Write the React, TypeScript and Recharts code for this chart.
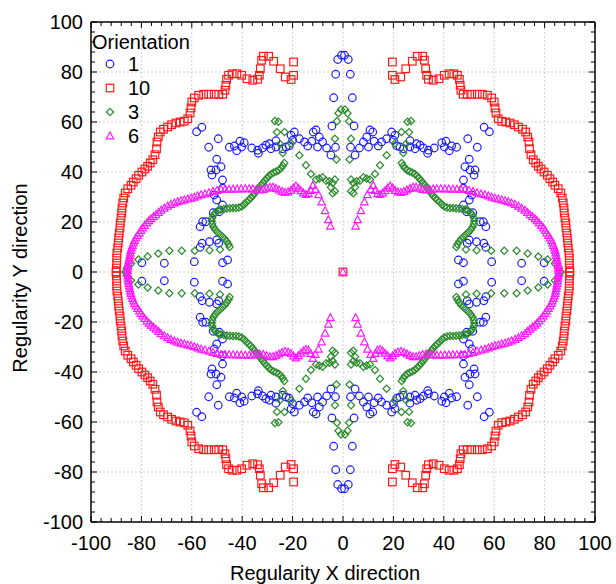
import React from "react";
import {
  ScatterChart,
  Scatter,
  XAxis,
  YAxis,
  ReferenceLine,
  Legend,
} from "recharts";

// one quadrant (x>0, y>0) per orientation; the figure is symmetric
const orient1Quadrant: [number, number][] = [
  [0.6, 86.7], [2.1, 85.0], [2.9, 79.1], [3.7, 69.7], [4.4, 58.4], [3.0, 49.9], [4.8, 46.8],
  [6.5, 49.6], [8.1, 52.0], [9.4, 54.0], [10.7, 56.8], [11.8, 56.0], [10.1, 50.0], [12.4, 52.3],
  [14.0, 50.4], [15.3, 52.0], [17.3, 53.3], [19.3, 56.0], [20.6, 54.7], [20.0, 52.7], [21.3, 50.5],
  [22.6, 50.0], [24.0, 49.3], [26.6, 50.0], [26.6, 52.5], [28.6, 49.3], [29.2, 51.3], [30.6, 50.7],
  [31.9, 49.6], [33.6, 47.5], [33.9, 48.7], [36.2, 49.6], [39.2, 51.7], [40.9, 52.3], [40.2, 50.0],
  [42.2, 48.5], [43.1, 50.4], [45.1, 49.9], [49.5, 53.3], [53.3, 49.9], [56.0, 57.9], [58.1, 56.1],
  [50.1, 45.1], [48.4, 42.1], [50.4, 40.8], [52.4, 40.8], [52.0, 38.8], [47.8, 36.8], [47.8, 33.5],
  [51.1, 30.8], [50.1, 28.8], [47.8, 26.8], [49.1, 24.1], [51.5, 23.7], [54.4, 20.1], [55.7, 20.1],
  [56.7, 18.1], [50.1, 12.8], [49.3, 11.5], [53.0, 12.1], [55.9, 11.5], [56.7, 9.9], [45.8, 4.8],
  [47.8, 3.7], [59.0, 4.1], [70.9, 3.5], [79.8, 3.7],
];

const orient10Quadrant: [number, number][] = [
  [19.6, 84.0], [19.6, 78.7], [20.6, 77.0], [22.9, 78.0], [24.9, 81.3], [27.5, 84.3], [29.5, 86.3],
  [31.6, 86.3], [32.3, 84.7], [32.8, 81.3], [33.2, 78.7], [33.9, 77.1], [35.8, 76.7], [38.1, 77.3],
  [40.2, 78.7], [42.1, 79.3], [44.0, 79.3], [45.4, 78.7], [46.2, 77.1], [46.5, 74.7], [46.8, 72.7],
  [47.7, 71.1], [49.3, 71.0], [51.1, 71.1], [53.3, 71.1], [55.3, 71.1], [57.3, 70.7], [59.0, 69.6],
  [60.0, 68.0], [60.3, 65.6], [60.7, 63.6], [61.6, 61.3], [63.0, 60.3], [64.6, 60.0], [66.3, 59.6],
  [68.0, 58.9], [69.6, 58.0], [71.2, 57.1], [72.5, 56.0], [73.3, 54.0], [73.8, 52.0], [74.0, 49.3],
  [74.6, 46.9], [75.5, 44.9], [76.5, 43.6], [77.5, 42.3], [78.6, 41.2], [79.8, 40.0], [81.1, 38.7],
  [82.1, 37.3], [83.2, 36.0], [84.1, 34.7], [85.4, 33.3], [86.4, 31.6], [87.0, 29.6], [87.4, 27.6],
  [87.7, 25.6], [87.8, 23.6], [88.1, 21.6], [88.4, 19.6], [88.5, 17.6], [88.8, 15.6], [89.0, 13.6],
  [89.2, 11.6], [89.4, 9.6], [89.7, 7.6], [89.8, 5.6], [89.8, 3.6], [89.9, 1.6], [90.0, 0],
];

const orient3Quadrant: [number, number][] = [
  [0.8, 65.0], [1.8, 63.5], [2.4, 60.3], [3.2, 53.3], [2.6, 45.0], [3.2, 37.0], [4.1, 35.6],
  [5.4, 36.3], [6.7, 36.5], [8.1, 37.9], [9.4, 37.4], [10.7, 37.0], [4.8, 33.9], [3.2, 32.3],
  [4.1, 31.5], [12.7, 39.2], [14.7, 42.7], [17.3, 46.7], [20.6, 51.4], [23.9, 47.6], [25.0, 51.2],
  [23.2, 56.0], [26.2, 55.9], [25.6, 60.1], [27.0, 60.4],
  [23.3, 43.6], [23.9, 42.5], [24.6, 41.5], [25.5, 40.7], [26.5, 40.2], [27.5, 39.8], [28.5, 39.2],
  [29.4, 38.4], [30.2, 37.5], [31.0, 36.6], [31.8, 35.6], [32.6, 34.6], [33.4, 33.6], [34.2, 32.5],
  [35.0, 31.5], [35.8, 30.5], [36.6, 29.6], [37.4, 28.8], [38.3, 28.0], [39.2, 27.0], [40.2, 26.2],
  [41.3, 25.8], [42.5, 25.6], [43.7, 25.6], [44.9, 25.5], [46.1, 25.4], [47.3, 25.2], [48.5, 25.0],
  [49.6, 24.6], [50.6, 23.8], [51.4, 22.8], [51.9, 21.6], [52.1, 20.4], [51.9, 19.2], [51.4, 18.0],
  [50.7, 16.9], [49.8, 15.9], [48.8, 15.0], [47.8, 14.1], [46.9, 13.2], [46.1, 12.2], [45.4, 11.1],
  [45.0, 10.0], [48.8, 9.0], [53.0, 8.7], [58.8, 8.5], [64.0, 8.5], [68.9, 8.5], [73.3, 7.4],
  [77.5, 6.2], [81.2, 5.0], [84.1, 3.4], [85.8, 1.5], [86.3, 0],
];

const orient6Quadrant: [number, number][] = [
  [5.0, 18.3], [5.8, 20.9], [7.1, 24.5], [8.5, 28.0], [9.7, 30.9], [11.0, 33.0], [12.0, 34.6],
  [12.8, 32.6], [13.7, 31.3], [14.7, 31.0], [15.7, 31.6], [16.7, 32.5], [17.7, 33.5], [18.7, 34.4],
  [19.7, 33.6], [20.7, 32.6], [21.8, 32.0], [23.0, 31.8], [24.2, 32.2], [25.4, 32.8], [26.6, 33.4],
  [27.8, 33.9], [29.0, 33.9], [30.3, 33.5], [31.6, 33.0], [33.0, 32.8], [34.4, 33.0], [35.8, 33.2],
  [37.2, 33.3], [38.8, 33.3], [40.4, 33.2], [42.0, 33.2], [43.6, 33.1], [45.2, 33.1], [46.8, 33.0],
  [48.4, 33.0], [50.0, 32.6], [51.6, 32.2], [53.2, 31.7], [54.8, 31.2], [56.3, 30.9], [57.7, 30.4],
  [59.0, 29.9], [60.3, 29.5], [61.6, 29.2], [63.0, 28.8], [64.3, 28.5], [65.6, 28.1], [66.9, 27.6],
  [68.3, 27.0], [69.6, 26.3], [70.9, 25.5], [72.2, 24.7], [73.2, 23.8], [74.2, 22.9], [75.2, 22.1],
  [76.2, 21.3], [77.0, 20.5], [77.8, 19.6], [78.7, 18.6], [79.5, 17.6], [80.2, 16.6], [80.8, 15.6],
  [81.5, 14.6], [82.2, 13.6], [82.7, 12.6], [83.1, 11.6], [83.5, 10.6], [83.9, 9.6], [84.2, 8.6],
  [84.4, 7.6], [84.6, 6.6], [84.8, 5.6], [85.0, 4.6], [85.2, 3.6], [85.3, 2.6], [85.4, 1.6],
  [85.5, 0.6],
];

const centerPoint: [number, number][] = [[0, 0]];

const majorTicks = [-100, -80, -60, -40, -20, 0, 20, 40, 60, 80, 100];
const minorTicks = [
  -100, -96, -92, -88, -84, -80, -76, -72, -68, -64, -60, -56, -52, -48, -44, -40, -36, -32,
  -28, -24, -20, -16, -12, -8, -4, 0, 4, 8, 12, 16, 20, 24, 28, 32, 36, 40, 44, 48, 52, 56, 60,
  64, 68, 72, 76, 80, 84, 88, 92, 96, 100,
];

const FONT = "'Liberation Sans', Arial, Helvetica, sans-serif";

const mirror = (q: [number, number][]) =>
  q.flatMap(([x, y]) => [
    { x, y },
    { x: -x, y },
    { x, y: -y },
    { x: -x, y: -y },
  ]);

const toPoints = (q: [number, number][]) => q.map(([x, y]) => ({ x, y }));

type Kind = "circle" | "square" | "diamond" | "triangle";

const Marker = ({ kind, cx, cy, color }: { kind: Kind; cx: number; cy: number; color: string }) => {
  const common = { fill: "none", stroke: color, strokeWidth: 1.2 };
  if (kind === "circle") return <circle cx={cx} cy={cy} r={3.8} {...common} />;
  if (kind === "square") return <rect x={cx - 3.8} y={cy - 3.8} width={7.6} height={7.6} {...common} />;
  if (kind === "diamond")
    return (
      <polygon
        points={`${cx},${cy - 3.6} ${cx + 3.6},${cy} ${cx},${cy + 3.6} ${cx - 3.6},${cy}`}
        {...common}
      />
    );
  return (
    <polygon
      points={`${cx},${cy - 4} ${cx + 3.7},${cy + 2.8} ${cx - 3.7},${cy + 2.8}`}
      {...common}
    />
  );
};

const series: { name: string; kind: Kind; color: string; data: { x: number; y: number }[] }[] = [
  { name: "1", kind: "circle", color: "#1a1aff", data: mirror(orient1Quadrant) },
  { name: "10", kind: "square", color: "#ff1a1a", data: [...mirror(orient10Quadrant), ...toPoints(centerPoint)] },
  { name: "3", kind: "diamond", color: "#2a8a2a", data: mirror(orient3Quadrant) },
  { name: "6", kind: "triangle", color: "#ff1aff", data: [...mirror(orient6Quadrant), ...toPoints(centerPoint)] },
];

const renderLegend = () => (
  <svg width={130} height={125} style={{ fontFamily: FONT }}>
    <text x={4} y={14} fontSize={20} dominantBaseline="central" fill="#000">
      Orientation
    </text>
    {series.map((s, i) => (
      <g key={s.name}>
        <Marker kind={s.kind} cx={22} cy={36 + i * 24} color={s.color} />
        <text x={40} y={36 + i * 24} fontSize={20} dominantBaseline="central" fill="#000">
          {s.name}
        </text>
      </g>
    ))}
  </svg>
);

const tickStyle = { fill: "#000", fontSize: 20, fontFamily: FONT };

export default function App() {
  return (
    <div
      style={{
        position: "absolute",
        left: 8,
        top: 8,
        width: 608,
        height: 576,
        overflow: "hidden",
        fontFamily: FONT,
      }}
    >
      <ScatterChart width={608} height={576} margin={{ top: 14, right: 21, bottom: 12, left: 13 }}>
        <XAxis
          type="number"
          dataKey="x"
          domain={[-100, 100]}
          ticks={majorTicks}
          interval={0}
          tickLine={false}
          tickSize={0}
          tickMargin={14}
          height={50}
          tick={tickStyle}
          axisLine={{ stroke: "#000", strokeWidth: 1.5 }}
        />
        <YAxis
          type="number"
          dataKey="y"
          domain={[-100, 100]}
          ticks={majorTicks}
          interval={0}
          tickLine={false}
          tickSize={0}
          tickMargin={8}
          width={70}
          tick={tickStyle}
          axisLine={{ stroke: "#000", strokeWidth: 1.5 }}
        />
        {majorTicks
          .filter((v) => v > -100 && v < 100)
          .map((v) => (
            <ReferenceLine key={`gx${v}`} x={v} stroke="#cfcfcf" strokeDasharray="2 2" />
          ))}
        {majorTicks
          .filter((v) => v > -100 && v < 100)
          .map((v) => (
            <ReferenceLine key={`gy${v}`} y={v} stroke="#cfcfcf" strokeDasharray="2 2" />
          ))}
        <ReferenceLine x={100} stroke="#000" strokeWidth={1.5} />
        <ReferenceLine y={100} stroke="#000" strokeWidth={1.5} />
        {minorTicks.map((v) => {
          const len = v % 20 === 0 ? 2.4 : 1.6;
          return [
            <ReferenceLine key={`b${v}`} segment={[{ x: v, y: -100 }, { x: v, y: -100 + len }]} stroke="#000" />,
            <ReferenceLine key={`t${v}`} segment={[{ x: v, y: 100 }, { x: v, y: 100 - len }]} stroke="#000" />,
            <ReferenceLine key={`l${v}`} segment={[{ x: -100, y: v }, { x: -100 + len, y: v }]} stroke="#000" />,
            <ReferenceLine key={`r${v}`} segment={[{ x: 100, y: v }, { x: 100 - len, y: v }]} stroke="#000" />,
          ];
        })}
        {series.map((s) => (
          <Scatter
            key={s.name}
            name={s.name}
            data={s.data}
            isAnimationActive={false}
            shape={(p: any) => <Marker kind={s.kind} cx={p.cx} cy={p.cy} color={s.color} />}
          />
        ))}
        <Legend
          layout="vertical"
          align="center"
          verticalAlign="middle"
          content={renderLegend}
          wrapperStyle={{ left: 80, top: 20, width: 130, height: 125 }}
        />
      </ScatterChart>
      <div
        style={{
          position: "absolute",
          left: 317,
          top: 565,
          transform: "translate(-50%, -50%)",
          fontSize: 20,
          whiteSpace: "nowrap",
        }}
      >
        Regularity X direction
      </div>
      <div
        style={{
          position: "absolute",
          left: 12,
          top: 270,
          transform: "translate(-50%, -50%) rotate(-90deg)",
          fontSize: 20,
          whiteSpace: "nowrap",
        }}
      >
        Regularity Y direction
      </div>
    </div>
  );
}
